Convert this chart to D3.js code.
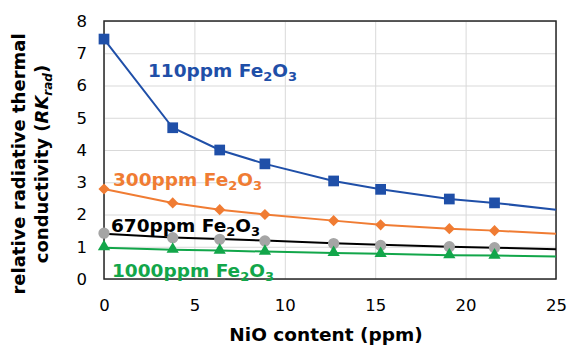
<!DOCTYPE html>
<html>
<head>
<meta charset="utf-8">
<script src="https://cdn.jsdelivr.net/npm/d3@7"></script>
<style>
  body { margin: 0; background: #fff; }
  svg { display: block; font-family: 'DejaVu Sans', Verdana, sans-serif; }
</style>
</head>
<body>
<svg id="chart" width="569" height="346"></svg>
<script>
// measured NiO contents (ppm)
const nio = [0, 3.8, 6.4, 8.9, 12.7, 15.3, 19.1, 21.6];
// fitted curve end point
const fitEnd = 25;

const rk110 = [7.44, 4.69, 4.0, 3.57, 3.04, 2.78, 2.48, 2.36];
const rk300 = [2.79, 2.36, 2.15, 2.0, 1.81, 1.68, 1.56, 1.5];
const rk670 = [1.42, 1.28, 1.23, 1.18, 1.1, 1.04, 1.0, 0.97];
const rk1000 = [1.0, 0.92, 0.89, 0.86, 0.82, 0.79, 0.75, 0.74];

const fit110 = [7.44, 4.69, 4.0, 3.57, 3.04, 2.78, 2.48, 2.36, 2.15];
const fit300 = [2.79, 2.36, 2.15, 2.0, 1.81, 1.68, 1.56, 1.5, 1.4];
const fit670 = [1.4, 1.29, 1.24, 1.19, 1.11, 1.06, 1.0, 0.97, 0.92];
const fit1000 = [0.97, 0.91, 0.88, 0.85, 0.81, 0.78, 0.74, 0.73, 0.7];

const xTicks = [0, 5, 10, 15, 20, 25];
const yTicks = [0, 1, 2, 3, 4, 5, 6, 7, 8];

const svg = d3.select('#chart');
const margin = { left: 104, right: 13, top: 21, bottom: 67 };
const width = 569 - margin.left - margin.right;
const height = 346 - margin.top - margin.bottom;

const x = d3.scaleLinear().domain([0, 25]).range([0, width]);
const y = d3.scaleLinear().domain([0, 8]).range([height, 0]);

const chart = svg.append('g').attr('transform', `translate(${margin.left},${margin.top})`);

// grid
chart.append('g')
  .attr('class', 'grid')
  .call(d3.axisLeft(y).tickValues(yTicks).tickSize(-width).tickFormat(''))
  .call((g) => g.select('.domain').remove())
  .selectAll('line').attr('stroke', '#d9d9d9').attr('stroke-width', 1);

chart.append('g')
  .attr('class', 'grid')
  .attr('transform', `translate(0,${height})`)
  .call(d3.axisBottom(x).tickValues(xTicks).tickSize(-height).tickFormat(''))
  .call((g) => g.select('.domain').remove())
  .selectAll('line').attr('stroke', '#d9d9d9').attr('stroke-width', 1);

// frame
chart.append('rect')
  .attr('width', width).attr('height', height)
  .attr('fill', 'none').attr('stroke', '#262626').attr('stroke-width', 1.5);

// axes labels
const yAxis = chart.append('g')
  .call(d3.axisLeft(y).tickValues(yTicks).tickSize(0).tickPadding(17));
yAxis.select('.domain').remove();
yAxis.selectAll('text').attr('font-size', 16.5).attr('fill', '#000')
  .attr('font-family', "'DejaVu Sans', sans-serif");

const xAxis = chart.append('g')
  .attr('transform', `translate(0,${height})`)
  .call(d3.axisBottom(x).tickValues(xTicks).tickSize(0).tickPadding(20));
xAxis.select('.domain').remove();
xAxis.selectAll('text').attr('font-size', 16.5).attr('fill', '#000')
  .attr('font-family', "'DejaVu Sans', sans-serif");

svg.append('text')
  .attr('x', margin.left + width / 2 - 4).attr('y', 341)
  .attr('text-anchor', 'middle')
  .attr('font-size', 18.5).attr('font-weight', 'bold')
  .text('NiO content (ppm)');

const yTitle = svg.append('g')
  .attr('transform', `translate(0,164) rotate(-90)`);
yTitle.append('text')
  .attr('x', 0).attr('y', 25)
  .attr('text-anchor', 'middle')
  .attr('font-size', 18).attr('font-weight', 'bold')
  .text('relative radiative thermal');
const t2 = yTitle.append('text')
  .attr('x', 0).attr('y', 48)
  .attr('text-anchor', 'middle')
  .attr('font-size', 18).attr('font-weight', 'bold');
t2.append('tspan').text('conductivity (');
t2.append('tspan').attr('font-style', 'italic').text('RK');
t2.append('tspan').attr('font-style', 'italic').attr('font-size', 12).attr('dy', 4).text('rad');
t2.append('tspan').attr('dy', -4).text(')');

// series
const fitX = nio.concat([fitEnd]);
const line = d3.line().x((d) => x(d[0])).y((d) => y(d[1]));

const series = [
  { label: '110ppm', fit: fit110, pts: rk110, line: '#1f4fa8', marker: '#1f4fa8', shape: d3.symbolSquare, size: 115, rot: 0, lx: 148, ly: 77 },
  { label: '300ppm', fit: fit300, pts: rk300, line: '#f07c33', marker: '#f07c33', shape: d3.symbolSquare, size: 62, rot: 45, lx: 113, ly: 186 },
  { label: '670ppm', fit: fit670, pts: rk670, line: '#000000', marker: '#a5a5a5', shape: d3.symbolCircle, size: 100, rot: 0, lx: 111, ly: 232 },
  { label: '1000ppm', fit: fit1000, pts: rk1000, line: '#12a64a', marker: '#12a64a', shape: d3.symbolTriangle, size: 65, rot: 0, lx: 112, ly: 277 },
];
const labelColor = { '110ppm': '#1f4fa8', '300ppm': '#f07c33', '670ppm': '#000', '1000ppm': '#12a64a' };

series.forEach((s) => {
  chart.append('path')
    .datum(fitX.map((v, i) => [v, s.fit[i]]))
    .attr('d', line)
    .attr('fill', 'none')
    .attr('stroke', s.line)
    .attr('stroke-width', 2);

  chart.append('g')
    .selectAll('path')
    .data(nio.map((v, i) => [v, s.pts[i]]))
    .join('path')
    .attr('transform', (d) => `translate(${x(d[0])},${y(d[1])}) rotate(${s.rot})`)
    .attr('d', d3.symbol().type(s.shape).size(s.size))
    .attr('fill', s.marker);
});

series.forEach((s) => {
  const t = svg.append('text')
    .attr('x', s.lx).attr('y', s.ly)
    .attr('font-size', 18.5).attr('font-weight', 'bold')
    .attr('fill', labelColor[s.label]);
  t.append('tspan').text(s.label + ' Fe');
  t.append('tspan').attr('font-size', 13).attr('dy', 4).text('2');
  t.append('tspan').attr('dy', -4).text('O');
  t.append('tspan').attr('font-size', 13).attr('dy', 4).text('3');
});
</script>
</body>
</html>
